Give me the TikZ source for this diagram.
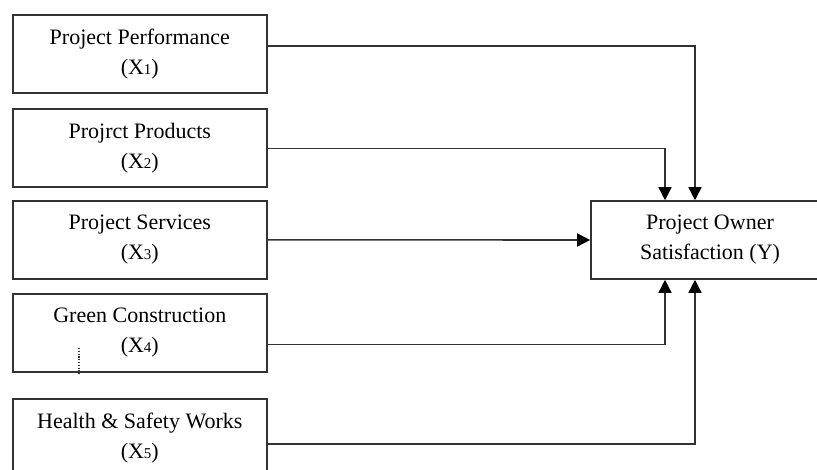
\documentclass[tikz,border=0pt]{standalone}
\usepackage{fontspec}
\setmainfont{Liberation Serif}
\usetikzlibrary{arrows.meta}
\newcommand{\sdig}[1]{{\fontsize{15}{15}\selectfont #1}}
\begin{document}
\begin{tikzpicture}[x=1pt,y=-1pt,
  box/.style={draw=black!80, line width=1.6pt, fill=white, minimum width=254pt, minimum height=78pt,
    anchor=north west, align=center, inner sep=0pt, font=\fontsize{22}{30}\selectfont},
  conn/.style={draw=black!80, line width=1.6pt, -{Triangle[width=13pt,length=13pt,color=black]}}]
\useasboundingbox (0,0) rectangle (817,469);
\clip (0,0) rectangle (817,469);
\node[box] (x1) at (12,14) {Project Performance\\(X\sdig{1})};
\node[box] (x2) at (12,108) {Projrct Products\\(X\sdig{2})};
\node[box] (x3) at (12,200) {Project Services\\(X\sdig{3})};
\node[box] (x4) at (12,293) {Green Construction\\(X\sdig{4})};
\node[box] (x5) at (12,398) {Health \& Safety Works\\(X\sdig{5})};
\node[box, minimum width=238pt, anchor=center] (y) at (710,240) {Project Owner\\Satisfaction (Y)};
\draw[conn] ([yshift=8pt]x1.east) -| ([xshift=-15pt]y.north);
\draw[conn] ([yshift=-0.5pt]x2.east) -| ([xshift=-45pt]y.north);
\draw[conn] (x3.east) -- (y.west);
\draw[conn] ([yshift=-11.5pt]x4.east) -| ([xshift=-45pt]y.south);
\draw[conn] ([yshift=-6pt]x5.east) -| ([xshift=-15pt]y.south);
\draw[black!80, line width=1.4pt, dash pattern=on 1.2pt off 1.6pt] (79,348) -- (79,374);
\end{tikzpicture}
\end{document}
